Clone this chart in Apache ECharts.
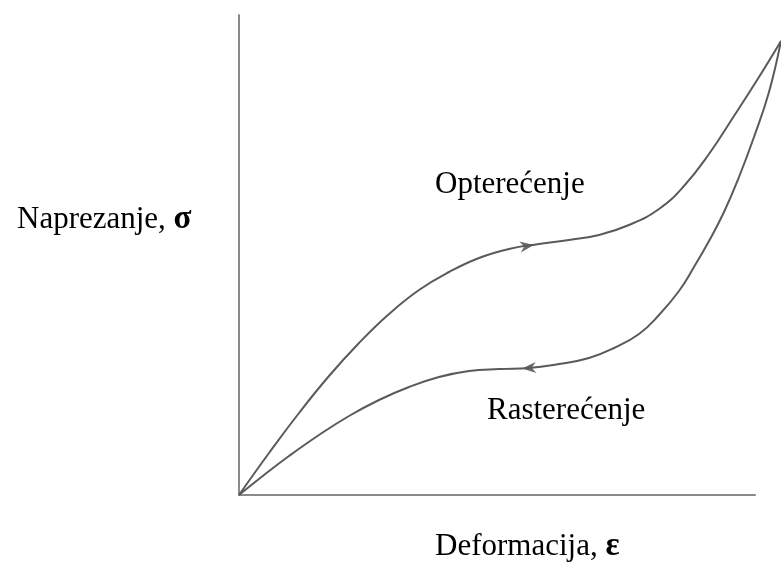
<!DOCTYPE html>
<html>
<head>
<meta charset="utf-8">
<script src="https://cdn.jsdelivr.net/npm/echarts@6/dist/echarts.min.js"></script>
<style>
  html, body { margin: 0; padding: 0; background: #fff; }
  #chart { width: 781px; height: 565px; }
</style>
</head>
<body>
<div id="chart"></div>
<script>
// krivulja opterećenja (x = deformacija, y = naprezanje)
var loadingCurve = [
    [0, 0], [30, 42], [60, 82], [90, 119], [120, 152], [150, 181], [180, 205],
    [210, 223], [240, 237], [270, 246], [300, 251], [330, 255], [360, 260],
    [390, 270], [420, 286], [445, 309], [470, 341], [495, 379], [520, 418], [542, 454]
];
// krivulja rasterećenja (od vrha natrag do ishodišta)
var unloadingCurve = [
    [542, 454], [530, 403], [515, 358], [500, 318], [485, 283], [470, 254],
    [455, 228], [440, 204], [420, 180], [400, 161], [375, 147], [350, 137],
    [320, 131], [290, 127], [260, 126], [230, 124], [200, 118], [170, 108],
    [140, 95], [110, 79], [80, 60], [50, 39], [25, 20], [0, 0]
];
// strelice smjera
var loadArrow = [[288, 249]];
var unloadArrow = [[290, 127]];

var yLabel = 'Naprezanje, ';
var xLabel = 'Deformacija, ';
var loadLabel = 'Opterećenje';
var unloadLabel = 'Rasterećenje';

var myChart = echarts.init(document.getElementById('chart'));
var serif = '"Liberation Serif", "DejaVu Serif", serif';
var lineColor = '#5a5a5a';

myChart.setOption({
    animation: false,
    grid: [
        {left: 239, right: 26, top: 15, bottom: 70},   // osi
        {left: 239, right: 0, top: 15, bottom: 70}     // krivulje
    ],
    xAxis: [
        {gridIndex: 0, type: 'value', min: 0, max: 100,
         axisLine: {show: true, lineStyle: {color: '#8a8a8a', width: 2}},
         axisTick: {show: false}, axisLabel: {show: false}, splitLine: {show: false}},
        {gridIndex: 1, type: 'value', min: 0, max: 542, show: false}
    ],
    yAxis: [
        {gridIndex: 0, type: 'value', min: 0, max: 100,
         axisLine: {show: true, lineStyle: {color: '#8a8a8a', width: 2}},
         axisTick: {show: false}, axisLabel: {show: false}, splitLine: {show: false}},
        {gridIndex: 1, type: 'value', min: 0, max: 480, show: false}
    ],
    series: [
        {
            name: loadLabel,
            type: 'line',
            xAxisIndex: 1, yAxisIndex: 1,
            data: loadingCurve,
            smooth: 0.45,
            showSymbol: false,
            lineStyle: {color: lineColor, width: 2}
        },
        {
            name: unloadLabel,
            type: 'line',
            xAxisIndex: 1, yAxisIndex: 1,
            data: unloadingCurve,
            smooth: 0.45,
            showSymbol: false,
            lineStyle: {color: lineColor, width: 2}
        },
        {
            type: 'scatter',
            xAxisIndex: 1, yAxisIndex: 1,
            data: loadArrow,
            symbol: 'path://M0,0L10,5L0,10L3,5Z',
            symbolSize: [14, 11],
            symbolRotate: 8,
            itemStyle: {color: '#444'}
        },
        {
            type: 'scatter',
            xAxisIndex: 1, yAxisIndex: 1,
            data: unloadArrow,
            symbol: 'path://M10,0L0,5L10,10L7,5Z',
            symbolSize: [14, 11],
            symbolRotate: 4,
            itemStyle: {color: '#444'}
        }
    ],
    graphic: [
        {
            type: 'text', left: 17, top: 203,
            style: {
                text: yLabel + '{b|σ}',
                font: '31px ' + serif, fill: '#000',
                rich: {b: {fontFamily: serif, fontSize: 33, fontWeight: 'bold', fill: '#000'}}
            }
        },
        {
            type: 'text', left: 435, top: 169,
            style: {text: loadLabel, font: '31px ' + serif, fill: '#000'}
        },
        {
            type: 'text', left: 487, top: 395,
            style: {text: unloadLabel, font: '31px ' + serif, fill: '#000'}
        },
        {
            type: 'text', left: 435, top: 530,
            style: {
                text: xLabel + '{b|ε}',
                font: '31px ' + serif, fill: '#000',
                rich: {b: {fontFamily: serif, fontSize: 33, fontWeight: 'bold', fill: '#000'}}
            }
        }
    ]
});
</script>
</body>
</html>
